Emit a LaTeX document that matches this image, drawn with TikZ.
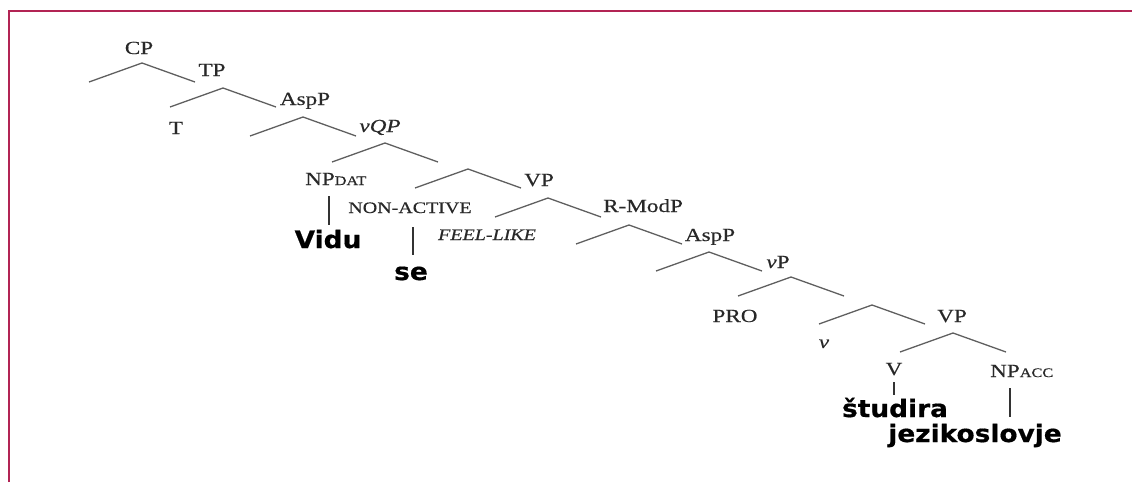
\documentclass[tikz,border=0pt]{standalone}
\usepackage{fontspec}
\setmainfont{Liberation Serif}[FakeStretch=1.25, FakeBold=0.4]
\newfontfamily\wordfont{DejaVu Sans}[FakeStretch=1.1, FakeBold=0.6]
\definecolor{framered}{RGB}{178,36,84}
\definecolor{branchgray}{RGB}{95,95,95}
\definecolor{labelgray}{RGB}{40,40,40}
\newcommand{\casesub}[1]{{\fontsize{13}{14}\selectfont #1}}

\begin{document}
\begin{tikzpicture}[x=1pt, y=-1pt,
    br/.style={branchgray, line width=1.3pt},
    stem/.style={black!80, line width=1.4pt},
    lbl/.style={inner sep=0pt, anchor=base, text=labelgray, font=\fontsize{18.5}{20}\selectfont},
    small/.style={lbl, font=\fontsize{16}{18}\selectfont},
    word/.style={inner sep=0pt, anchor=base, font=\wordfont\bfseries\fontsize{24}{26}\selectfont}]
  \useasboundingbox (0,0) rectangle (1132,482);

  % frame
  \draw[framered, line width=1.8pt] (8.7,482) -- (8.7,11) -- (1132,11);

  % category labels
  \node[lbl] (cp) at (139,54) {CP};
  \node[lbl] (tp) at (212,76) {TP};
  \node[lbl] (t) at (176,134) {T};
  \node[lbl] (aspa) at (305,105) {AspP};
  \node[lbl] (vqp) at (380,132) {\textit{vQP}};
  \node[lbl, anchor=base west] (npdat) at (305,185) {NP\casesub{DAT}};
  \node[lbl] (vpa) at (539,186) {VP};
  \node[small] (nonact) at (410,213) {NON-ACTIVE};
  \node[small] (feel) at (487,240) {\textit{FEEL-LIKE}};
  \node[lbl, anchor=base west] (rmod) at (603,212) {R-ModP};
  \node[lbl] (aspb) at (710,241) {AspP};
  \node[lbl] (littlevp) at (778,268) {\textit{v}P};
  \node[lbl] (pro) at (735,322) {PRO};
  \node[lbl] (littlev) at (824,348) {\textit{v}};
  \node[lbl] (vpb) at (952,322) {VP};
  \node[lbl] (verb) at (894,375) {V};
  \node[lbl, anchor=base west] (npacc) at (990,377) {NP\casesub{ACC}};

  % words
  \node[word] (vidu) at (328,248) {Vidu};
  \node[word] (se) at (411,280) {se};
  \node[word] (studira) at (895,417) {študira};
  \node[word] (jezik) at (975,442) {jezikoslovje};

  % branches
  \foreach \n/\x/\y in {cp-top/142/63, tp-top/223/88, aspa-top/303/117,
      vqp-top/385/143, vpa-top/468/169, rmod-top/548/198, aspb-top/629/225,
      vp-top/709/252, vbar-top/791/277, vbarb-top/872/305, vpb-top/953/333}
    \draw[br] (\x-53,\y+19) -- (\x,\y) coordinate (\n) -- (\x+53,\y+19);

  % stems
  \draw[stem] (npdat.base west) ++(24,11) -- ++(0,29);
  \draw[stem] (se.base) ++(2,-53) -- ++(0,28);
  \draw[stem] (verb.base) ++(0,7) -- ++(0,13);
  \draw[stem] (npacc.base west) ++(20,11) -- ++(0,29);
\end{tikzpicture}
\end{document}
